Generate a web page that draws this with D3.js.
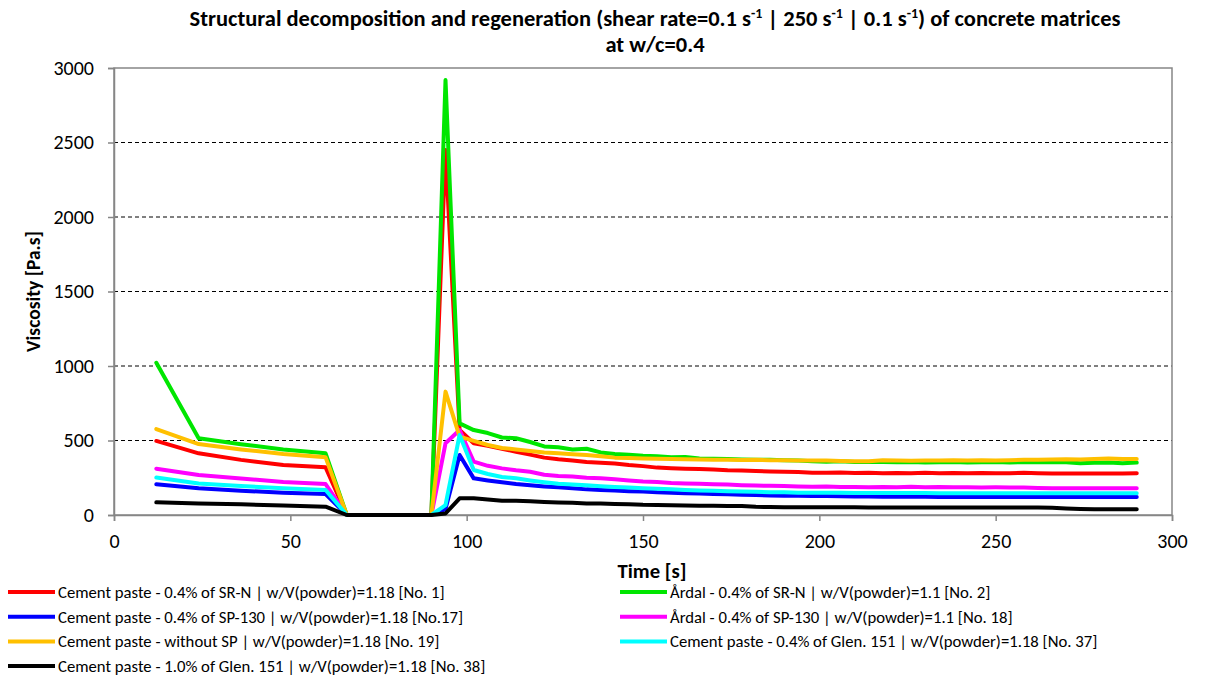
<!DOCTYPE html>
<html lang="en">
<head>
<meta charset="UTF-8">
<title>Structural decomposition and regeneration</title>
<script src="https://d3js.org/d3.v7.min.js"></script>
<style>
  body { margin: 0; background: #fff; }
  svg { display: block; font-family: Carlito, Calibri, sans-serif; }
  .tick text { font-size: 20px; fill: #000; }
  .legend text { font-size: 16.7px; fill: #000; }
  .bold { font-weight: bold; }
</style>
</head>
<body>
<svg width="1212" height="684"></svg>
<script>
// time axis [s]
var time = [12, 24, 36, 48, 60, 66, 72, 78, 84, 90, 94,
  98, 102, 106, 110, 114, 118, 122, 126, 130, 134, 138, 142, 146, 150, 154, 158, 162, 166, 170, 174,
  178, 182, 186, 190, 194, 198, 202, 206, 210, 214, 218, 222, 226, 230, 234, 238, 242, 246, 250, 254,
  258, 262, 266, 270, 274, 278, 282, 286, 290];

var no1 = [497, 414, 370, 335, 320, 0, 0, 0, 0, 0, 2450,
  570, 481, 465, 445, 425, 405, 385, 374, 366, 355, 350, 345, 335, 328, 318, 313, 310, 308, 305, 300,
  298, 296, 292, 290, 288, 284, 284, 286, 282, 284, 280, 282, 280, 283, 281, 282, 280, 282, 280, 281,
  283, 280, 278, 279, 278, 279, 278, 279, 281];
var no2 = [1022, 515, 475, 440, 414, 0, 0, 0, 0, 0, 2919,
  615, 570, 550, 520, 515, 490, 460, 455, 440, 445, 420, 410, 405, 398, 395, 388, 390, 380, 378, 376,
  372, 370, 370, 368, 366, 360, 358, 360, 356, 355, 356, 354, 355, 352, 354, 355, 352, 354, 355, 353,
  355, 354, 356, 354, 348, 350, 352, 348, 352];
var no17 = [206, 179, 163, 150, 141, 0, 0, 0, 0, 0, 40,
  403, 246, 232, 220, 208, 200, 192, 186, 180, 172, 168, 164, 160, 157, 152, 150, 146, 144, 141, 139,
  136, 134, 131, 130, 129, 128, 127, 126, 124, 124, 123, 122, 122, 122, 121, 121, 121, 121, 120, 120,
  120, 120, 120, 120, 120, 120, 120, 120, 120];
var no18 = [311, 268, 245, 222, 208, 0, 0, 0, 0, 0, 481,
  570, 358, 330, 313, 300, 290, 270, 262, 258, 250, 246, 240, 232, 225, 222, 215, 212, 210, 206, 204,
  200, 198, 196, 194, 192, 190, 192, 188, 188, 186, 188, 186, 190, 186, 188, 186, 186, 185, 186, 185,
  184, 182, 180, 180, 180, 180, 180, 179, 179];
var no19 = [577, 476, 440, 410, 387, 0, 0, 0, 0, 0, 828,
  526, 497, 470, 450, 440, 430, 420, 414, 408, 403, 395, 385, 382, 380, 378, 376, 374, 372, 370, 370,
  369, 370, 368, 368, 366, 365, 366, 362, 360, 360, 368, 366, 364, 365, 366, 368, 366, 368, 366, 368,
  370, 370, 372, 374, 372, 376, 380, 376, 376];
var no37 = [251, 212, 195, 180, 168, 0, 0, 0, 0, 0, 67,
  537, 302, 275, 255, 246, 232, 220, 210, 205, 200, 193, 188, 184, 180, 176, 172, 168, 165, 162, 160,
  158, 156, 153, 152, 150, 150, 149, 149, 148, 148, 147, 147, 147, 147, 146, 146, 146, 146, 146, 146,
  146, 146, 146, 146, 146, 146, 146, 146, 146];
var no38 = [85, 78, 72, 64, 56, 0, 0, 0, 0, 0, 10,
  112, 112, 104, 96, 95, 92, 88, 84, 82, 78, 78, 74, 72, 68, 67, 66, 64, 62, 62, 60,
  60, 55, 53, 52, 52, 52, 52, 52, 52, 50, 50, 50, 50, 50, 50, 50, 50, 50, 50, 50,
  50, 50, 48, 44, 40, 38, 38, 38, 38];

var seriesNames = [
  "Cement paste - 0.4% of SR-N | w/V(powder)=1.18 [No. 1]",
  "Årdal - 0.4% of SR-N | w/V(powder)=1.1 [No. 2]",
  "Cement paste - 0.4% of SP-130 | w/V(powder)=1.18 [No.17]",
  "Årdal - 0.4% of SP-130 | w/V(powder)=1.1 [No. 18]",
  "Cement paste - without SP | w/V(powder)=1.18 [No. 19]",
  "Cement paste - 0.4% of Glen. 151 | w/V(powder)=1.18 [No. 37]",
  "Cement paste - 1.0% of Glen. 151 | w/V(powder)=1.18 [No. 38]"
];
var seriesValues = [no1, no2, no17, no18, no19, no37, no38];
var seriesColors = ["#ff0000", "#00e600", "#0000ff", "#ff00ff", "#ffc000", "#00ffff", "#000000"];
var xTicks = [0, 50, 100, 150, 200, 250, 300];
var yTicks = [0, 500, 1000, 1500, 2000, 2500, 3000];

var svg = d3.select("svg");
var pLeft = 114, pRight = 1172, pTop = 68, pBottom = 515;

var x = d3.scaleLinear().domain([0, 300]).range([pLeft, pRight]);
var y = d3.scaleLinear().domain([0, 3000]).range([pBottom, pTop]);

// title (with superscripts)
var title = svg.append("text")
    .attr("class", "bold")
    .attr("x", 655).attr("y", 26)
    .attr("text-anchor", "middle")
    .style("font-size", "22.5px");
title.append("tspan").text("Structural decomposition and regeneration (shear rate=0.1 s");
title.append("tspan").attr("dy", -8).style("font-size", "14px").text("-1");
title.append("tspan").attr("dy", 8).text(" | 250 s");
title.append("tspan").attr("dy", -8).style("font-size", "14px").text("-1");
title.append("tspan").attr("dy", 8).text(" | 0.1 s");
title.append("tspan").attr("dy", -8).style("font-size", "14px").text("-1");
title.append("tspan").attr("dy", 8).text(") of concrete matrices");
svg.append("text")
    .attr("class", "bold")
    .attr("x", 655).attr("y", 52)
    .attr("text-anchor", "middle")
    .style("font-size", "22.5px")
    .text("at w/c=0.4");

// gridlines
svg.append("g").selectAll("line")
    .data(yTicks.filter(function(d) { return d > 0 && d < 3000; }))
    .join("line")
    .attr("x1", pLeft).attr("x2", pRight)
    .attr("y1", function(d) { return y(d); })
    .attr("y2", function(d) { return y(d); })
    .attr("stroke", "#000").attr("stroke-width", 1)
    .attr("stroke-dasharray", "4,3");

// plot border
svg.append("rect")
    .attr("x", pLeft).attr("y", pTop)
    .attr("width", pRight - pLeft).attr("height", pBottom - pTop)
    .attr("fill", "none").attr("stroke", "#868686").attr("stroke-width", 1.5);

// axes
var xAxis = svg.append("g")
    .attr("transform", "translate(0," + pBottom + ")")
    .call(d3.axisBottom(x).tickValues(xTicks).tickSize(6).tickPadding(13));
var yAxis = svg.append("g")
    .attr("transform", "translate(" + pLeft + ",0)")
    .call(d3.axisLeft(y).tickValues(yTicks).tickFormat(d3.format("d")).tickSize(6).tickPadding(14));
[xAxis, yAxis].forEach(function(a) {
  a.attr("font-family", null).attr("font-size", null);
  a.select(".domain").attr("stroke", "#868686").attr("stroke-width", 1.5);
  a.selectAll(".tick line").attr("stroke", "#868686").attr("stroke-width", 1.5);
});

svg.append("text")
    .attr("class", "bold")
    .attr("transform", "translate(40," + ((pTop + pBottom) / 2) + ") rotate(-90)")
    .attr("text-anchor", "middle")
    .style("font-size", "19.5px")
    .text("Viscosity [Pa.s]");
svg.append("text")
    .attr("class", "bold")
    .attr("x", 652).attr("y", 578)
    .attr("text-anchor", "middle")
    .style("font-size", "20.7px")
    .text("Time [s]");

// series
var line = d3.line()
    .x(function(d, i) { return x(time[i]); })
    .y(function(d) { return y(d); });

svg.append("g").selectAll("path")
    .data(seriesValues)
    .join("path")
    .attr("d", line)
    .attr("fill", "none")
    .attr("stroke", function(d, i) { return seriesColors[i]; })
    .attr("stroke-width", 4)
    .attr("stroke-linejoin", "round")
    .attr("stroke-linecap", "round");

// legend, two columns
var legend = svg.append("g").attr("class", "legend");
var items = legend.selectAll("g")
    .data(seriesNames)
    .join("g")
    .attr("transform", function(d, i) {
      var col = i % 2, row = Math.floor(i / 2);
      return "translate(" + (col ? 620 : 8) + "," + (592 + row * 24.7) + ")";
    });
items.append("line")
    .attr("x1", 0).attr("x2", 47)
    .attr("stroke", function(d, i) { return seriesColors[i]; })
    .attr("stroke-width", 4);
items.append("text")
    .attr("x", 50).attr("dy", "0.35em")
    .text(function(d) { return d; });
</script>
</body>
</html>
